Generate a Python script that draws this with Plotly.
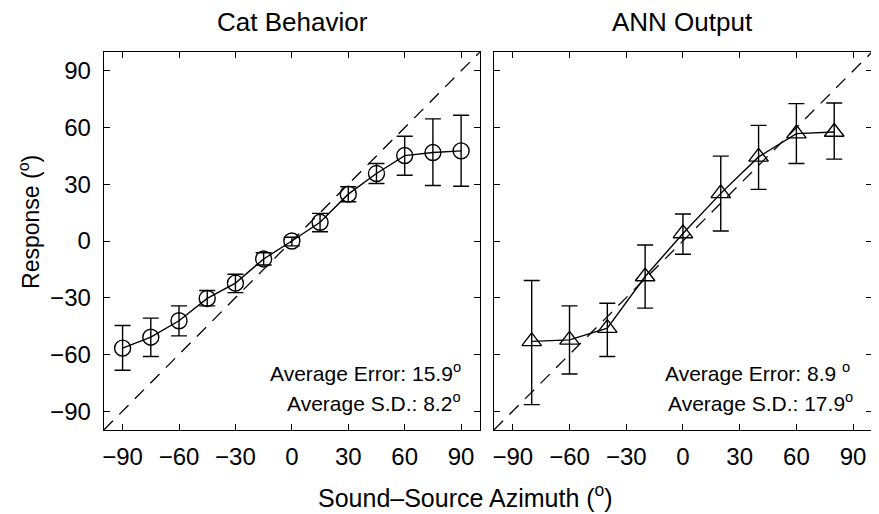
import plotly.graph_objects as go

# ---- data ----
cat_az = [-90, -75, -60, -45, -30, -15, 0, 15, 30, 45, 60, 75, 90]
cat_resp = [-56.7, -50.9, -42.2, -30.4, -22.3, -9.5, 0.0, 9.9, 24.8, 35.7, 45.2, 46.8, 47.7]
cat_upper = [-44.7, -40.8, -34.3, -26.2, -17.6, -6.2, 2.0, 14.6, 28.7, 41.0, 55.4, 64.6, 66.5]
cat_lower = [-68.4, -61.1, -50.2, -34.3, -27.3, -12.7, -2.6, 4.9, 20.8, 30.4, 34.8, 29.4, 29.0]

ann_az = [-80, -60, -40, -20, 0, 20, 40, 60, 80]
ann_resp = [-53.1, -52.3, -46.1, -18.8, 4.0, 25.2, 44.5, 56.8, 57.7]
ann_upper = [-20.9, -34.3, -32.9, -2.1, 14.3, 44.9, 61.2, 72.7, 73.0]
ann_lower = [-86.6, -70.4, -61.1, -35.5, -7.0, 5.3, 27.3, 41.0, 43.3]

identity = [-100, 100]
tick_vals = [-90, -60, -30, 0, 30, 60, 90]

FONT = "Liberation Sans, Arial, Helvetica, sans-serif"
OFF = 8  # default page body margin
W, H = 879 - OFF, 514 - OFF

fig = go.Figure()

def add_panel(xs, ys, up, lo, symbol, size, xa, ya):
    fig.add_trace(go.Scatter(
        x=identity, y=identity, mode="lines", xaxis=xa, yaxis=ya,
        line=dict(color="black", width=1.3, dash="13px,9px"),
        hoverinfo="skip", showlegend=False))
    fig.add_trace(go.Scatter(
        x=xs, y=ys, mode="lines+markers", xaxis=xa, yaxis=ya,
        line=dict(color="black", width=1.4),
        marker=dict(symbol=symbol, size=size, color="black", line=dict(width=1.4, color="black")),
        error_y=dict(type="data", symmetric=False,
                     array=[u - y for u, y in zip(up, ys)],
                     arrayminus=[y - l for l, y in zip(lo, ys)],
                     color="black", thickness=1.4, width=8),
        showlegend=False))

add_panel(cat_az, cat_resp, cat_upper, cat_lower, "circle-open", 16, "x", "y")
add_panel(ann_az, ann_resp, ann_upper, ann_lower, "triangle-up-open", 17, "x2", "y2")

def px(x):
    return (x - OFF) / W

def py(y):
    return 1 - (y - OFF) / H

axis_common = dict(
    range=[-100, 100], tickvals=tick_vals, ticks="inside", ticklen=6,
    tickcolor="black", tickwidth=1, showline=True, mirror="ticks", linecolor="black",
    linewidth=1.3, showgrid=False, zeroline=False,
    tickfont=dict(family=FONT, size=24, color="black"))

fig.update_layout(
    width=W, height=H, margin=dict(l=0, r=0, t=0, b=0),
    paper_bgcolor="white", plot_bgcolor="white",
    font=dict(family=FONT, color="black"),
    xaxis=dict(domain=[px(102), px(479)], anchor="y", ticklabelstandoff=5, **axis_common),
    yaxis=dict(domain=[py(430), py(52)], anchor="x", ticklabelstandoff=7, **axis_common),
    xaxis2=dict(domain=[px(493), px(872)], anchor="y2", ticklabelstandoff=5, **axis_common),
    yaxis2=dict(domain=[py(430), py(52)], anchor="x2", showticklabels=False, **axis_common),
)

ann = []
common = dict(xref="paper", yref="paper", showarrow=False, xanchor="center", yanchor="middle")
ann.append(dict(text="Cat Behavior", x=px(291), y=py(22), font=dict(size=26), **common))
ann.append(dict(text="ANN Output", x=px(682), y=py(22), font=dict(size=26), **common))
ann.append(dict(text="Sound\u2013Source Azimuth (<sup>o</sup>)", x=px(465), y=py(496),
                font=dict(size=25), **common))
ann.append(dict(text="Response (<sup>o</sup>)", x=px(27), y=py(222), textangle=-90,
                font=dict(size=23), **common))

stat_font = dict(size=21)
ann.append(dict(text="Average Error: 15.9<sup>o</sup>", x=91, y=-69.5, xref="x", yref="y",
                xanchor="right", yanchor="middle", showarrow=False, font=stat_font))
ann.append(dict(text="Average S.D.: 8.2<sup>o</sup>", x=91, y=-85, xref="x", yref="y",
                xanchor="right", yanchor="middle", showarrow=False, font=stat_font))
ann.append(dict(text="Average Error: 8.9 <sup>o</sup>", x=89.5, y=-69.5, xref="x2", yref="y2",
                xanchor="right", yanchor="middle", showarrow=False, font=stat_font))
ann.append(dict(text="Average S.D.: 17.9<sup>o</sup>", x=91, y=-85, xref="x2", yref="y2",
                xanchor="right", yanchor="middle", showarrow=False, font=stat_font))
fig.update_layout(annotations=ann)

fig.write_html("out.html")
